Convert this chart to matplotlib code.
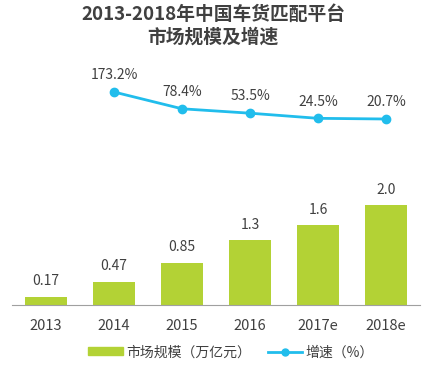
import numpy as np
import matplotlib.pyplot as plt
from matplotlib.patches import Patch
from matplotlib.lines import Line2D

plt.rcParams['font.family'] = ['Noto Sans CJK SC', 'DejaVu Sans']

# 数据
years = ['2013', '2014', '2015', '2016', '2017e', '2018e']
scale = [0.17, 0.47, 0.85, 1.3, 1.6, 2.0]
scale_labels = ['0.17', '0.47', '0.85', '1.3', '1.6', '2.0']
growth_years = ['2014', '2015', '2016', '2017e', '2018e']
growth = [173.2, 78.4, 53.5, 24.5, 20.7]

bar_color = '#b3d235'
line_color = '#21bdec'
text_color = '#404040'

fig = plt.figure(figsize=(4.26, 3.65), dpi=100)
ax = fig.add_axes([12/426, 60/365, 408/426, 245/365])
x = np.arange(len(years))
ax.bar(x, scale, width=0.62, color=bar_color)
for xi, v, lab in zip(x, scale, scale_labels):
    ax.annotate(lab, (xi, v), xytext=(0, 6), textcoords='offset points',
                ha='center', va='bottom', fontsize=10, color=text_color)
ax.set_ylim(0, 4.9)
ax.set_xlim(-0.5, len(years) - 0.5)
ax.set_xticks(x)
ax.set_xticklabels(years, fontsize=10.5, color=text_color)
ax.tick_params(axis='x', length=0, pad=10)
ax.set_yticks([])
for s in ['top', 'left', 'right']:
    ax.spines[s].set_visible(False)
ax.spines['bottom'].set_color('#a0a0a0')

ax2 = ax.twinx()
gx = [years.index(g) for g in growth_years]
ax2.plot(gx, growth, color=line_color, lw=2, marker='o', ms=6)
for xi, v in zip(gx, growth):
    ax2.annotate(f'{v}%', (xi, v), xytext=(0, 7), textcoords='offset points',
                 ha='center', va='bottom', fontsize=10, color=text_color)
ax2.set_ylim(-1030, 354)
ax2.set_yticks([])
for s in ax2.spines.values():
    s.set_visible(False)

fig.text(0.5, 0.987, '2013-2018年中国车货匹配平台\n市场规模及增速', ha='center', va='top',
         fontsize=13.5, fontweight='bold', color=text_color, linespacing=1.25)

handles = [Patch(color=bar_color, label='市场规模（万亿元）'),
           Line2D([], [], color=line_color, lw=2, marker='o', ms=5, label='增速（%）')]
fig.legend(handles=handles, loc='center', bbox_to_anchor=(0.542, 0.035), ncol=2,
           frameon=False, fontsize=10, handlelength=2.5, handleheight=0.5,
           columnspacing=1.2, handletextpad=0.2, labelcolor=text_color)

fig.savefig('out.png', dpi=100)
